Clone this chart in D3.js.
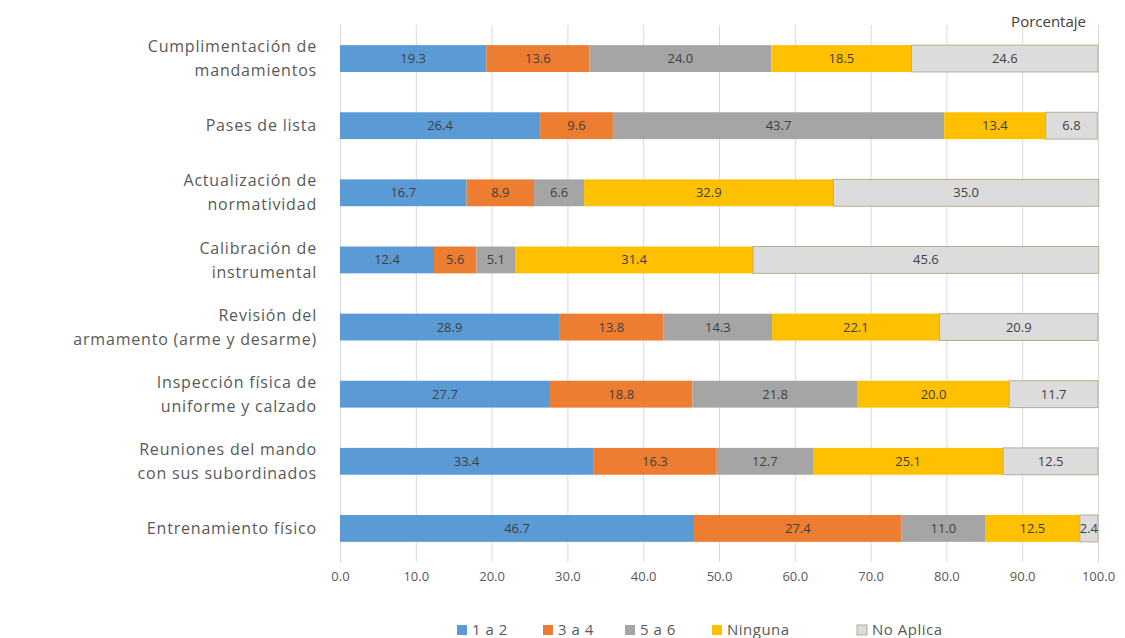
<!DOCTYPE html>
<html>
<head>
<meta charset="utf-8">
<script src="https://cdn.jsdelivr.net/npm/d3@7"></script>
<style>
  body { margin: 0; background: #fff; }
  text { font-family: "Open Sans", "Liberation Sans", sans-serif; }
</style>
</head>
<body>
<div id="chart"></div>
<script>
var categories = [
  ["Cumplimentación de", "mandamientos"],
  ["Pases de lista"],
  ["Actualización de", "normatividad"],
  ["Calibración de", "instrumental"],
  ["Revisión del", "armamento (arme y desarme)"],
  ["Inspección física de", "uniforme y calzado"],
  ["Reuniones del mando", "con sus subordinados"],
  ["Entrenamiento físico"]
];
var seriesNames = ["1 a 2", "3 a 4", "5 a 6", "Ninguna", "No Aplica"];
var colors = ["#5b9bd5", "#ed7d31", "#a5a5a5", "#ffc000", "#dcdcdc"];

var s1a2     = [19.3, 26.4, 16.7, 12.4, 28.9, 27.7, 33.4, 46.7];
var s3a4     = [13.6, 9.6, 8.9, 5.6, 13.8, 18.8, 16.3, 27.4];
var s5a6     = [24.0, 43.7, 6.6, 5.1, 14.3, 21.8, 12.7, 11.0];
var ninguna  = [18.5, 13.4, 32.9, 31.4, 22.1, 20.0, 25.1, 12.5];
var noAplica = [24.6, 6.8, 35.0, 45.6, 20.9, 11.7, 12.5, 2.4];
var xTicks = [0, 10, 20, 30, 40, 50, 60, 70, 80, 90, 100];

var margin = {top: 25, right: 27, bottom: 76, left: 340},
    width = 1125 - margin.left - margin.right,
    height = 638 - margin.top - margin.bottom;

var svg = d3.select("#chart")
    .append("svg")
        .attr("width", 1125)
        .attr("height", 638)
    .append("g")
        .attr("transform", "translate(" + margin.left + "," + margin.top + ")");

var x = d3.scaleLinear()
        .domain([0, 100])
        .range([0, width]);

var y = d3.scaleBand()
        .domain(d3.range(categories.length))
        .range([0, height])
        .paddingInner(0.6)
        .paddingOuter(0.3);

// gridlines
svg.append("g")
    .selectAll("line")
    .data(xTicks)
    .join("line")
      .attr("x1", function(d) { return x(d) + 0.5; })
      .attr("x2", function(d) { return x(d) + 0.5; })
      .attr("y1", 0)
      .attr("y2", height)
      .attr("stroke", "#d9d9d9");

// stacked data
var table = categories.map(function(c, i) {
    return {i: i, "1 a 2": s1a2[i], "3 a 4": s3a4[i], "5 a 6": s5a6[i],
            "Ninguna": ninguna[i], "No Aplica": noAplica[i]};
});
var stacked = d3.stack().keys(seriesNames)(table);

var groups = svg.selectAll(".serie")
    .data(stacked)
    .join("g")
      .attr("class", "serie")
      .attr("fill", function(d, i) { return colors[i]; });

groups.selectAll("rect")
    .data(function(d) { return d; })
    .join("rect")
      .attr("x", function(d) { return x(d[0]); })
      .attr("y", function(d) { return y(d.data.i); })
      .attr("width", function(d) { return x(d[1]) - x(d[0]); })
      .attr("height", y.bandwidth());

// thin outline on "No Aplica"
svg.select(".serie:last-child").selectAll("rect")
    .attr("stroke", "#b5ae92")
    .attr("stroke-width", 1);

// value labels
groups.selectAll("text")
    .data(function(d) { return d; })
    .join("text")
      .attr("x", function(d) { return (x(d[0]) + x(d[1])) / 2; })
      .attr("y", function(d) { return y(d.data.i) + y.bandwidth() / 2; })
      .attr("dy", "0.35em")
      .attr("text-anchor", "middle")
      .attr("fill", "#404040")
      .style("font-size", "13px")
      .text(function(d) { return (d[1] - d[0]).toFixed(1); });

// category labels, one text per line
var catG = svg.append("g");
var lineGap = 24;
categories.forEach(function(lines, i) {
    var cy = y(i) + y.bandwidth() / 2;
    lines.forEach(function(l, k) {
        catG.append("text")
            .attr("x", -23)
            .attr("y", cy + (k - (lines.length - 1) / 2) * lineGap)
            .attr("dy", "0.35em")
            .attr("text-anchor", "end")
            .attr("fill", "#595959")
            .style("font-size", "16px")
            .style("letter-spacing", "0.8px")
            .text(l);
    });
});

// x axis
var xAxis = svg.append("g")
    .attr("transform", "translate(0," + height + ")")
    .call(d3.axisBottom(x).tickValues(xTicks).tickSize(0).tickPadding(10)
        .tickFormat(function(d) { return d.toFixed(1); }));
xAxis.select(".domain").remove();
xAxis.selectAll("text")
    .attr("fill", "#595959")
    .style("font-size", "13px")
    .style("font-family", "'Open Sans', sans-serif");

// axis title
svg.append("text")
    .attr("x", width - 12)
    .attr("y", 2)
    .attr("text-anchor", "end")
    .attr("fill", "#404040")
    .style("font-size", "15px")
    .text("Porcentaje");

// legend
var legendX = [117, 203, 285, 372, 517];
var legend = svg.append("g")
    .attr("transform", "translate(0," + (height + 68) + ")");
seriesNames.forEach(function(name, i) {
    var g = legend.append("g").attr("transform", "translate(" + legendX[i] + ",0)");
    g.append("rect")
        .attr("x", 0).attr("y", -5)
        .attr("width", 10).attr("height", 10)
        .attr("fill", colors[i])
        .attr("stroke", i === 4 ? "#b5ae92" : "none");
    g.append("text")
        .attr("x", 15).attr("dy", "0.35em")
        .attr("fill", "#595959")
        .style("font-size", "15px")
        .style("letter-spacing", "0.5px")
        .text(name);
});
</script>
</body>
</html>
